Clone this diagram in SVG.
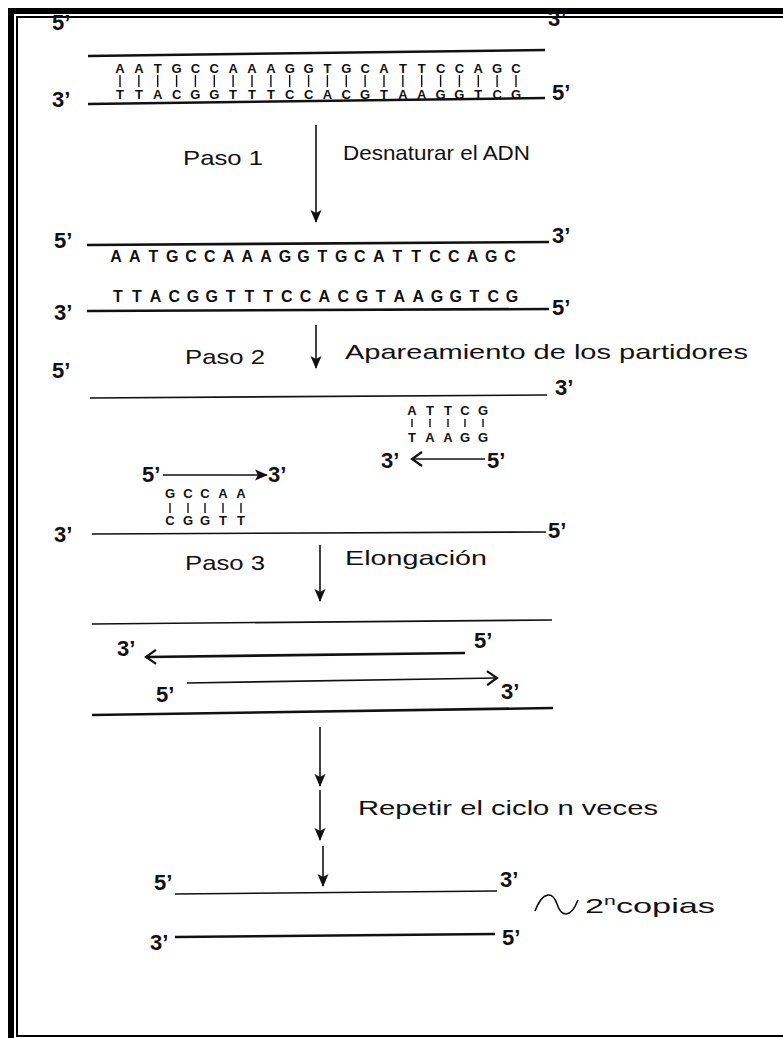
<svg xmlns="http://www.w3.org/2000/svg" width="783" height="1038" viewBox="0 0 783 1038">
  <style>
    .strand { stroke: #111; stroke-width: 2.6; fill: none; stroke-linecap: butt; }
    .thin { stroke: #111; stroke-width: 1.6; fill: none; }
    .end { font-family: "Liberation Sans", Arial, sans-serif; font-weight: bold; font-size: 22px; fill: #111; }
    .label { font-family: "Liberation Sans", Arial, sans-serif; font-size: 21px; fill: #111; }
    .base { font-family: "Liberation Sans", Arial, sans-serif; font-weight: bold; font-size: 13px; fill: #111; text-anchor: middle; }
    .base2 { font-family: "Liberation Sans", Arial, sans-serif; font-weight: bold; font-size: 16px; fill: #111; text-anchor: middle; }
    .bond { stroke: #111; stroke-width: 1.4; }
  </style>
  <defs>
    <marker id="tip" markerWidth="13" markerHeight="12" refX="12" refY="6" orient="auto" markerUnits="userSpaceOnUse">
      <path d="M0,0.5 L13,6 L0,11.5 L3,6 Z" fill="#111"/>
    </marker>
    <marker id="chev" markerWidth="14" markerHeight="16" refX="11" refY="8" orient="auto" markerUnits="userSpaceOnUse">
      <path d="M1,1 L11,8 L1,15" fill="none" stroke="#111" stroke-width="2.2"/>
    </marker>
  </defs>

  <rect width="783" height="1038" fill="#fff"/>

  <!-- double frame -->
  <g id="frame" fill="#000">
    <rect x="8" y="8" width="775" height="6"/>
    <rect x="8" y="8" width="6" height="1030"/>
    <rect x="16" y="16" width="767" height="2"/>
    <rect x="16" y="16" width="2" height="1021"/>
    <rect x="16" y="1035" width="767" height="2"/>
  </g>

  <!-- original double-stranded DNA -->
  <g id="duplex">
    <text class="end" x="52" y="30">5’</text>
    <text class="end" x="548" y="26">3’</text>
    <path class="strand" d="M88,56 L545,50"/>
    <text class="base" y="73" x="120 138.9 157.7 176.6 195.4 214.3 233.1 252 270.9 289.7 308.6 327.4 346.3 365.1 384 402.9 421.7 440.6 459.4 478.3 497.1 516">AATGCCAAAGGTGCATTCCAGC</text>
    <g class="bond">
      <path d="M120,75V87 M138.9,75V87 M157.7,75V87 M176.6,75V87 M195.4,75V87 M214.3,75V87 M233.1,75V87 M252,75V87 M270.9,75V87 M289.7,75V87 M308.6,75V87 M327.4,75V87 M346.3,75V87 M365.1,75V87 M384,75V87 M402.9,75V87 M421.7,75V87 M440.6,75V87 M459.4,75V87 M478.3,75V87 M497.1,75V87 M516,75V87"/>
    </g>
    <text class="base" y="99" x="120 138.9 157.7 176.6 195.4 214.3 233.1 252 270.9 289.7 308.6 327.4 346.3 365.1 384 402.9 421.7 440.6 459.4 478.3 497.1 516">TTACGGTTTCCACGTAAGGTCG</text>
    <path class="strand" d="M88,104 L545,98"/>
    <text class="end" x="52" y="107">3’</text>
    <text class="end" x="552" y="100">5’</text>
  </g>

  <!-- step 1 -->
  <g id="step1">
    <text class="label" x="183" y="165" textLength="80" lengthAdjust="spacingAndGlyphs">Paso 1</text>
    <text class="label" x="343" y="160" textLength="187" lengthAdjust="spacingAndGlyphs">Desnaturar el ADN</text>
  </g>

  <!-- separated strands -->
  <g id="separated">
    <text class="end" x="54" y="248">5’</text>
    <text class="end" x="552" y="243">3’</text>
    <path class="strand" d="M87,245 L549,242"/>
    <text class="base2" y="262" x="116 134.8 153.5 172.3 191 209.8 228.6 247.3 266.1 284.9 303.6 322.4 341.2 359.9 378.7 397.4 416.2 435 453.7 472.5 491.3 510">AATGCCAAAGGTGCATTCCAGC</text>
    <text class="base2" y="302" x="118 136.8 155.5 174.3 193 211.8 230.6 249.3 268.1 286.9 305.6 324.4 343.2 361.9 380.7 399.4 418.2 437 455.7 474.5 493.3 512">TTACGGTTTCCACGTAAGGTCG</text>
    <path class="strand" d="M87,311 L549,309"/>
    <text class="end" x="54" y="320">3’</text>
    <text class="end" x="552" y="315">5’</text>
  </g>

  <!-- step 2 -->
  <g id="step2">
    <text class="label" x="185" y="364" textLength="80" lengthAdjust="spacingAndGlyphs">Paso 2</text>
    <text class="label" x="345" y="359" textLength="403" lengthAdjust="spacingAndGlyphs">Apareamiento de los partidores</text>
  </g>

  <!-- upper template with reverse primer -->
  <g id="template-top">
    <text class="end" x="52" y="378">5’</text>
    <path class="thin" d="M90,398 L547,395"/>
    <text class="end" x="555" y="395">3’</text>
  </g>
  <g id="primer-reverse">
    <text class="base" y="415" x="412 430 448 465 483">ATTCG</text>
    <path class="bond" d="M412,419V427 M430,419V427 M448,419V427 M465,419V427 M483,419V427"/>
    <text class="base" y="442" x="412 430 448 465 483">TAAGG</text>
    <text class="end" x="381" y="468">3’</text>
    <path class="thin" d="M485,459 L412,459" marker-end="url(#chev)"/>
    <text class="end" x="487" y="468">5’</text>
  </g>

  <!-- lower template with forward primer -->
  <g id="primer-forward">
    <text class="end" x="142" y="482">5’</text>
    <path class="thin" d="M163,475 L267,475" marker-end="url(#tip)"/>
    <text class="end" x="268" y="482">3’</text>
    <text class="base" y="498" x="170 188 205 223 241">GCCAA</text>
    <path class="bond" d="M170,503V513 M188,503V513 M205,503V513 M223,503V513 M241,503V513"/>
    <text class="base" y="525" x="170 188 205 223 241">CGGTT</text>
  </g>
  <g id="template-bottom">
    <text class="end" x="54" y="542">3’</text>
    <path class="thin" d="M92,534 L546,532"/>
    <text class="end" x="548" y="538">5’</text>
  </g>

  <!-- step 3 -->
  <g id="step3">
    <text class="label" x="185" y="570" textLength="80" lengthAdjust="spacingAndGlyphs">Paso 3</text>
    <text class="label" x="345" y="565" textLength="142" lengthAdjust="spacingAndGlyphs">Elongación</text>
  </g>

  <!-- elongation products -->
  <g id="elongation">
    <path class="thin" d="M92,624 L552,620"/>
    <text class="end" x="117" y="656">3’</text>
    <path class="strand" d="M465,653 L146,657" marker-end="url(#chev)"/>
    <text class="end" x="474" y="648">5’</text>
    <text class="end" x="156" y="702">5’</text>
    <path class="thin" d="M187,683 L497,678" marker-end="url(#chev)"/>
    <text class="end" x="501" y="699">3’</text>
    <path class="strand" d="M92,715 L553,708"/>
  </g>

  <!-- repeat -->
  <g id="repeat">
    <text class="label" x="358" y="815" textLength="300" lengthAdjust="spacingAndGlyphs">Repetir el ciclo n veces</text>
  </g>

  <!-- final copies -->
  <g id="copies">
    <text class="end" x="154" y="890">5’</text>
    <path class="thin" d="M175,894 L497,891"/>
    <text class="end" x="500" y="887">3’</text>
    <text class="end" x="150" y="950">3’</text>
    <path class="strand" d="M175,937 L495,934"/>
    <text class="end" x="502" y="945">5’</text>
    <path class="thin" d="M535,911 C543,890 553,892 557,904 C561,916 570,920 578,900"/>
    <text class="label" x="585" y="913" textLength="130" lengthAdjust="spacingAndGlyphs">2<tspan font-size="13" dy="-8">n</tspan><tspan dy="8">copias</tspan></text>
  </g>

  <!-- process arrows -->
  <g id="connectors">
    <path class="thin" d="M316,125 L316,222" marker-end="url(#tip)"/>
    <path class="thin" d="M316,325 L316,368" marker-end="url(#tip)"/>
    <path class="thin" d="M320,545 L320,601" marker-end="url(#tip)"/>
    <path class="thin" d="M320,727 L320,786" marker-end="url(#tip)"/>
    <path class="thin" d="M320,790 L320,840" marker-end="url(#tip)"/>
    <path class="thin" d="M323,846 L323,886" marker-end="url(#tip)"/>
  </g>
</svg>
